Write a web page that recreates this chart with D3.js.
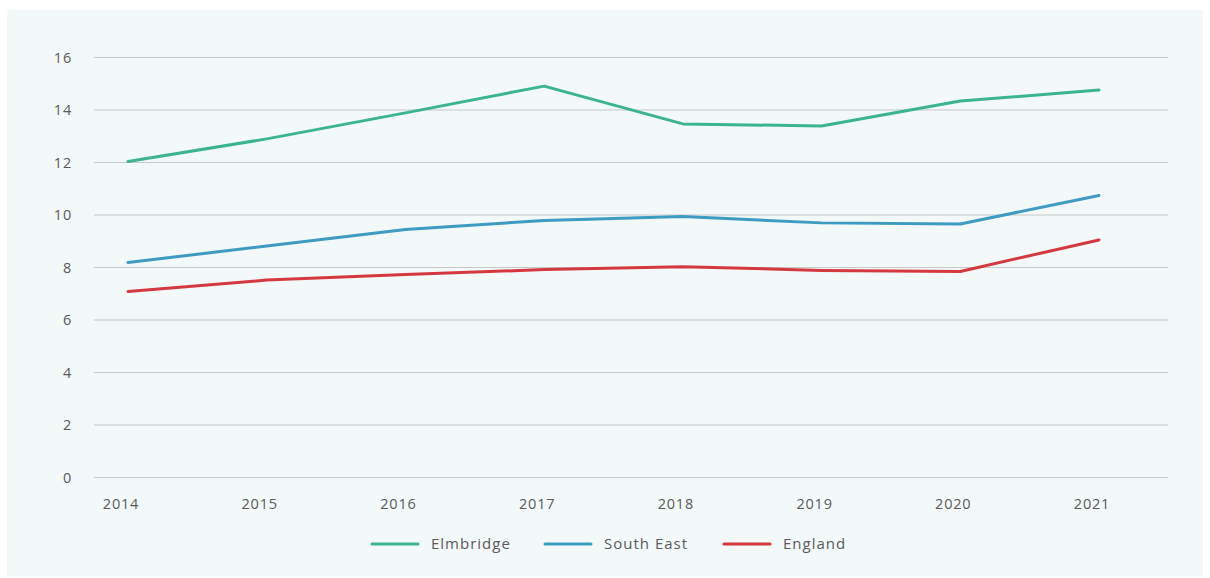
<!DOCTYPE html>
<html><head><meta charset="utf-8">
<script src="https://cdn.jsdelivr.net/npm/d3@7"></script>
<style>body{margin:0;background:#fff;}text{font-family:"Open Sans",Lato,sans-serif;}</style>
</head><body>
<svg id="c" width="1210" height="578"></svg>
<script>
const years = ["2014","2015","2016","2017","2018","2019","2020","2021"];
const elmbridge = [12.04, 12.9, 13.89, 14.91, 13.47, 13.39, 14.34, 14.76];
const southEast = [8.19, 8.82, 9.45, 9.79, 9.94, 9.7, 9.66, 10.74];
const england = [7.09, 7.52, 7.73, 7.92, 8.03, 7.89, 7.85, 9.05];
const yTicks = [0, 2, 4, 6, 8, 10, 12, 14, 16];
const seriesNames = ["Elmbridge", "South East", "England"];
const colors = ["#3bb492", "#3e9cc2", "#d5393f"];

const svg = d3.select("#c");
svg.append("rect").attr("x",7).attr("y",10).attr("width",1196).attr("height",566).attr("fill","#f3f8f8");

const x = d3.scalePoint().domain(years).range([128, 1099]);
const y = d3.scaleLinear().domain([0,16]).range([477.5, 57.5]);

const g = svg.append("g");
g.selectAll("line.grid").data(yTicks).enter().append("line")
  .attr("x1",94).attr("x2",1168).attr("y1",d=>y(d)).attr("y2",d=>y(d))
  .attr("stroke","#c6c8c9").attr("stroke-width",1);
g.selectAll("text.yl").data(yTicks).enter().append("text")
  .attr("x",72).attr("y",d=>y(d)).attr("dy","0.35em").attr("text-anchor","end")
  .attr("font-size",14.5).attr("letter-spacing",0.8).attr("fill","#5a5a5a").text(d=>d);
g.selectAll("text.xl").data(years).enter().append("text")
  .attr("x",d=>x(d)-7).attr("y",509).attr("text-anchor","middle")
  .attr("font-size",14.5).attr("letter-spacing",0.8).attr("fill","#5a5a5a").text(d=>d);

const data = [elmbridge, southEast, england];
const line = d3.line().x((d,i)=>x(years[i])).y(d=>y(d));
data.forEach((s,i)=>{
  svg.append("path").attr("d",line(s)).attr("fill","none")
    .attr("stroke",colors[i]).attr("stroke-width",3).attr("stroke-linecap","round").attr("stroke-linejoin","round");
});

const legX = [372, 545, 724];
seriesNames.forEach((n,i)=>{
  svg.append("line").attr("x1",legX[i]).attr("x2",legX[i]+46).attr("y1",544).attr("y2",544)
    .attr("stroke",colors[i]).attr("stroke-width",3).attr("stroke-linecap","round");
  svg.append("text").attr("x",legX[i]+59).attr("y",544).attr("dy","0.35em")
    .attr("font-size",15).attr("letter-spacing",1).attr("fill","#5a5a5a").text(n);
});
</script>
</body></html>
